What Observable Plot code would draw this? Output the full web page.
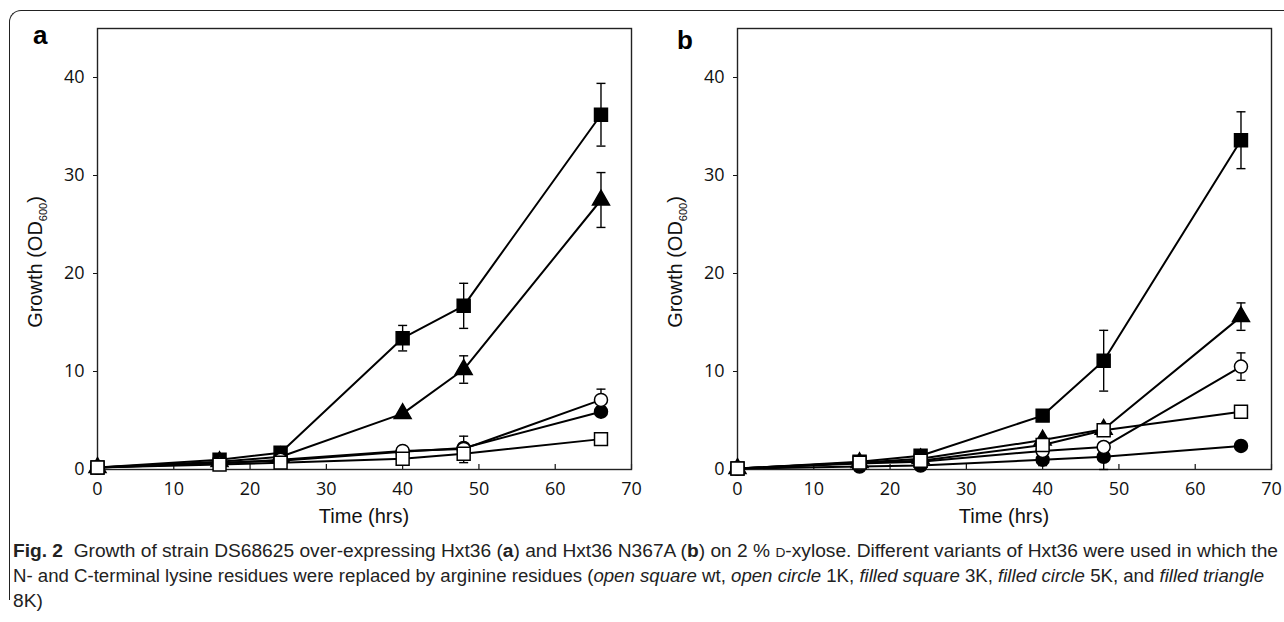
<!DOCTYPE html>
<html><head><meta charset="utf-8">
<script src="https://cdn.jsdelivr.net/npm/d3@7"></script>
<script src="https://cdn.jsdelivr.net/npm/@observablehq/plot@0.6"></script>
<style>
html,body{margin:0;padding:0;background:#fff;}
body{width:1284px;height:622px;position:relative;overflow:hidden;font-family:"Open Sans",sans-serif;}
#box{position:absolute;left:9px;top:10px;width:1300px;height:590px;border-top:1.3px solid #222;border-left:1.3px solid #222;border-top-left-radius:12px;box-sizing:border-box;}
#pa{position:absolute;left:0;top:0;width:642px;}
#pb{position:absolute;left:640px;top:0;width:644px;}
#pa svg,#pb svg{max-width:none;}
.plab{position:absolute;font-family:"Liberation Sans",Arial,sans-serif;font-weight:bold;font-size:26px;line-height:1;color:#000;}
#cap{position:absolute;left:13px;top:539px;font-family:"Liberation Sans",Arial,sans-serif;font-size:17.5px;line-height:25px;color:#222;white-space:nowrap;}
#cap .ln{height:25px;}
#cap span.fit{display:inline-block;transform-origin:0 50%;}
</style></head>
<body>
<div id="box"></div>
<div id="pa"></div>
<div id="pb"></div>
<div class="plab" style="left:33px;top:22px;">a</div>
<div class="plab" style="left:677px;top:27px;">b</div>
<div id="cap">
<div class="ln"><span class="fit" id="l1"><b>Fig. 2</b>&nbsp; Growth of strain DS68625 over-expressing Hxt36 (<b>a</b>) and Hxt36 N367A (<b>b</b>) on 2 % <span style="font-size:0.72em">D</span>-xylose. Different variants of Hxt36 were used in which the</span></div>
<div class="ln"><span class="fit" id="l2">N- and C-terminal lysine residues were replaced by arginine residues (<i>open square</i> wt, <i>open circle</i> 1K, <i>filled square</i> 3K, <i>filled circle</i> 5K, and <i>filled triangle</i></span></div>
<div class="ln"><span class="fit" id="l3">8K)</span></div>
</div>
<script>
// ---- data ----
const times = [0, 16, 24, 40, 48, 66];
const xTicks = [0, 10, 20, 30, 40, 50, 60, 70];
const yTicks = [0, 10, 20, 30, 40];
const seriesNames = ["wt", "1K", "3K", "5K", "8K"];

// Panel a: Hxt36
const aWt  = [0.2, 0.5, 0.7, 1.1, 1.6, 3.1];
const a1K  = [0.2, 0.6, 1.0, 1.9, 2.1, 7.1];
const a3K  = [0.2, 1.0, 1.7, 13.4, 16.7, 36.2];
const a5K  = [0.2, 0.7, 0.9, 1.8, 2.2, 5.9];
const a8K  = [0.2, 0.8, 1.3, 5.7, 10.2, 27.5];
const aWtErr = [0, 0, 0, 0, 0.9, 0.2];
const a1KErr = [0, 0, 0, 0, 0, 1.1];
const a3KErr = [0, 0, 0, 1.3, 2.3, 3.2];
const a5KErr = [0, 0, 0, 0, 1.2, 0.5];
const a8KErr = [0, 0, 0, 0.2, 1.4, 2.8];

// Panel b: Hxt36 N367A
const bWt  = [0.1, 0.7, 0.9, 2.5, 4.0, 5.9];
const b1K  = [0.1, 0.6, 0.8, 1.9, 2.3, 10.5];
const b3K  = [0.1, 0.8, 1.4, 5.5, 11.1, 33.6];
const b5K  = [0.1, 0.3, 0.4, 1.0, 1.3, 2.4];
const b8K  = [0.1, 0.7, 1.1, 3.0, 4.1, 15.6];
const bWtErr = [0, 0, 0, 0, 0, 0];
const b1KErr = [0, 0, 0, 0, 0, 1.4];
const b3KErr = [0, 0, 0, 0, 3.1, 2.9];
const b5KErr = [0, 0, 0, 0.6, 1.3, 0.3];
const b8KErr = [0, 0, 0, 0, 0, 1.4];

// marker styles per series
const styles = {
  "wt": {symbol: "square", fill: "#fff", r: 7.3},
  "1K": {symbol: "circle", fill: "#fff", r: 6.5},
  "3K": {symbol: "square", fill: "#000", r: 7.3},
  "5K": {symbol: "circle", fill: "#000", r: 6.5},
  "8K": {symbol: "triangle", fill: "#000", r: 6.3}
};
const drawOrder = ["5K", "8K", "3K", "1K", "wt"];

function buildRows(vals, errs) {
  const rows = [];
  seriesNames.forEach((s, i) => {
    times.forEach((t, j) => rows.push({series: s, t, v: vals[i][j], e: errs[i][j]}));
  });
  return rows;
}
const rowsA = buildRows([aWt, a1K, a3K, a5K, a8K], [aWtErr, a1KErr, a3KErr, a5KErr, a8KErr]);
const rowsB = buildRows([bWt, b1K, b3K, b5K, b8K], [bWtErr, b1KErr, b3KErr, b5KErr, b8KErr]);

const cap = {draw(ctx) { ctx.moveTo(-4.5, 0); ctx.lineTo(4.5, 0); }};

function makePanel(rows, width, marginRight) {
  const H = 525, mt = 28, mb = 56;
  const errRows = rows.filter(d => d.e > 0);
  const tickFont = {fontFamily: "'Open Sans', sans-serif", fontSize: 18, fill: "#111"};
  const marks = [
    Plot.axisY(yTicks, {tickSize: 4, tickFormat: () => "", label: null, stroke: "#111"}),
    Plot.text(yTicks, {y: d => d, text: d => String(d), frameAnchor: "left", textAnchor: "end", dx: -13, ...tickFont}),
    Plot.text(xTicks, {x: d => d, text: d => String(d), frameAnchor: "bottom", lineAnchor: "top", dy: 13, ...tickFont}),
    Plot.tickX(xTicks, {x: d => d, insetTop: H - mt - mb - 5, stroke: "#111", strokeWidth: 1.2}),
    Plot.frame({stroke: "#222", strokeWidth: 1.4}),
    Plot.ruleX(errRows, {x: "t", y1: d => d.v - d.e, y2: d => d.v + d.e, stroke: "#000", strokeWidth: 1.4}),
    Plot.dot(errRows, {x: "t", y: d => d.v + d.e, symbol: cap, fill: "none", stroke: "#000", strokeWidth: 1.4}),
    Plot.dot(errRows, {x: "t", y: d => d.v - d.e, symbol: cap, fill: "none", stroke: "#000", strokeWidth: 1.4}),
    Plot.line(rows, {x: "t", y: "v", z: "series", stroke: "#000", strokeWidth: 2})
  ];
  drawOrder.forEach(s => {
    const st = styles[s];
    marks.push(Plot.dot(rows.filter(d => d.series === s), {x: "t", y: "v", symbol: st.symbol, r: st.r, fill: st.fill, stroke: "#000", strokeWidth: 1.5}));
  });
  const svg = Plot.plot({
    width, height: H, marginLeft: 97, marginRight, marginTop: mt, marginBottom: mb,
    x: {domain: [0, 70], axis: null}, y: {domain: [0, 45]},
    style: {fontFamily: "'Open Sans', sans-serif", color: "#111", background: "transparent", overflow: "visible"},
    marks
  });
  const s = d3.select(svg);
  const yl = s.append("text")
    .attr("transform", "translate(35,262) rotate(-90)")
    .attr("text-anchor", "middle").attr("dy", "0.35em")
    .attr("font-family", "'Liberation Sans', Arial, sans-serif").attr("font-size", 20).attr("fill", "#111");
  yl.append("tspan").text("Growth (OD");
  yl.append("tspan").attr("font-size", 11).attr("dy", 5).text("600");
  yl.append("tspan").attr("dy", -5).text(")");
  s.append("text").attr("x", 97 + 267).attr("y", 523).attr("text-anchor", "middle")
    .attr("font-family", "'Liberation Sans', Arial, sans-serif").attr("font-size", 20).attr("fill", "#111")
    .text("Time (hrs)");
  return svg;
}

document.getElementById("pa").appendChild(makePanel(rowsA, 642, 11));
document.getElementById("pb").appendChild(makePanel(rowsB, 644, 13));

// fit caption lines to the reference line lengths
const l1 = document.getElementById("l1"), l2 = document.getElementById("l2"), l3 = document.getElementById("l3");
const k1 = 1265 / l1.getBoundingClientRect().width;
const k2 = 1251 / l2.getBoundingClientRect().width;
l1.style.transform = `scaleX(${k1})`;
l2.style.transform = `scaleX(${k2})`;
l3.style.transform = `scaleX(${k1})`;
</script>
</body></html>
